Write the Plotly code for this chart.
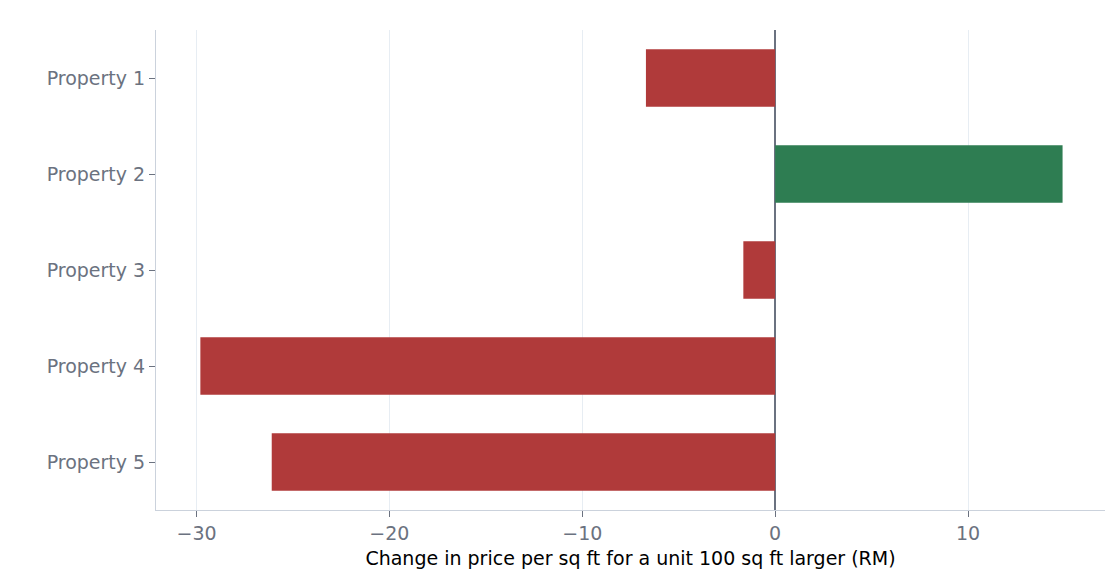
import plotly.graph_objects as go

properties = ["Property 1", "Property 2", "Property 3", "Property 4", "Property 5"]
changes = [-6.7, 14.9, -1.65, -29.8, -26.1]
colors = ["#2e7d52" if v > 0 else "#b03a3a" for v in changes]

fig = go.Figure(go.Bar(y=properties, x=changes, orientation="h",
                       marker=dict(color=colors, line=dict(width=0)), width=0.6))
fig.update_layout(
    width=1120, height=588, plot_bgcolor="white", paper_bgcolor="white",
    margin=dict(l=148, r=23, t=22, b=86),
    font=dict(family="DejaVu Sans", size=19, color="#6b7280"),
    showlegend=False,
)
fig.update_xaxes(range=[-32.1, 17.1], tickvals=[-30, -20, -10, 0, 10],
                 showgrid=True, gridcolor="rgba(215,225,235,0.6)", layer="above traces",
                 zeroline=True, zerolinecolor="#6b7280", zerolinewidth=1.5,
                 showline=True, linecolor="#cbd2dc", ticks="outside", tickcolor="#6b7280",
                 ticklen=6,
                 title=dict(text="Change in price per sq ft for a unit 100 sq ft larger (RM)",
                            font=dict(color="black", size=19), standoff=8))
fig.update_yaxes(autorange="reversed", showline=True, linecolor="#cbd2dc",
                 ticks="outside", tickcolor="#6b7280", ticklen=6, showgrid=False)
fig.write_html("out.html")
